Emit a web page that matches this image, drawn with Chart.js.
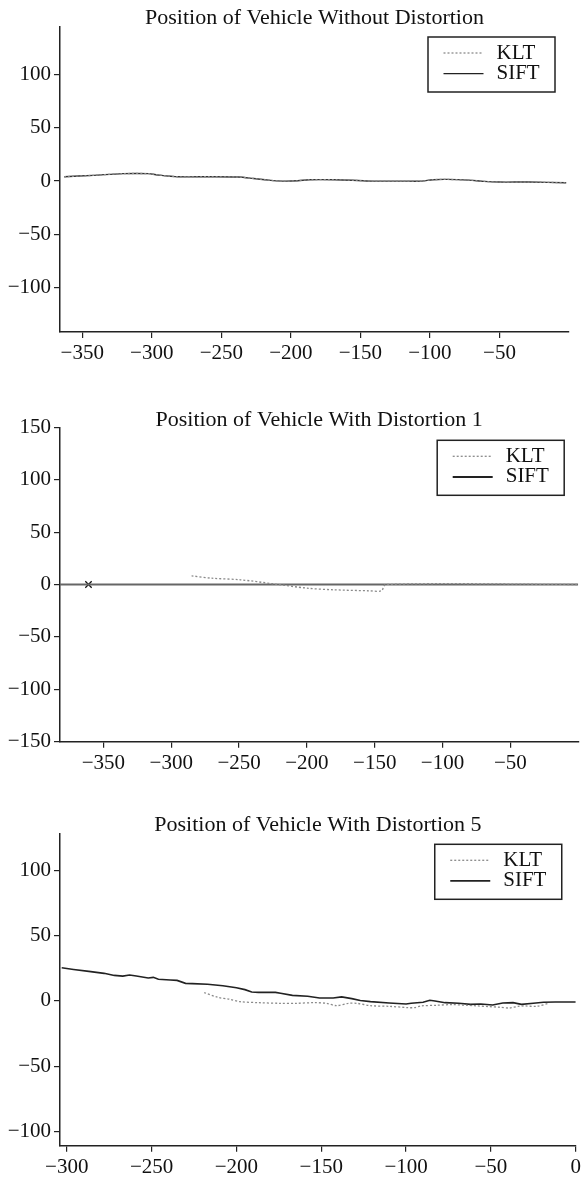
<!DOCTYPE html>
<html>
<head>
<meta charset="utf-8">
<title>Position of Vehicle</title>
<script src="https://cdn.jsdelivr.net/npm/chart.js@4.4.0/dist/chart.umd.min.js"></script>
<style>
  body { margin: 0; background: #fff; }
  canvas { display: block; }
</style>
</head>
<body>
<canvas id="chart1" width="584" height="390"></canvas>
<canvas id="chart2" width="584" height="390"></canvas>
<canvas id="chart3" width="584" height="398"></canvas>
<script>
// --- chart 1: without distortion (KLT and SIFT lie on top of each other)
var noDistX    = [-363, -342, -321, -302, -297, -281, -259, -238, -227, -216, -206, -195, -187, -168, -152, -141, -120, -106, -98, -88, -72, -61, -50, -29, -2];
var noDistSift = [4.1, 5.4, 7.0, 7.0, 6.0, 4.1, 4.1, 3.8, 2.5, 0.9, 0, 0.3, 1.3, 1.3, 0.6, 0, 0, 0, 1.3, 1.6, 0.9, -0.3, -0.9, -0.9, -1.6];
var noDistKlt  = [4.1, 5.4, 7.0, 7.0, 6.0, 4.1, 4.1, 3.8, 2.5, 0.9, 0, 0.3, 1.3, 1.3, 0.6, 0, 0, 0, 1.3, 1.6, 0.9, -0.3, -0.9, -0.9, -1.6];
var noDistXTicks = [-350, -300, -250, -200, -150, -100, -50];
var noDistYTicks = [-100, -50, 0, 50, 100];

// --- chart 2: distortion 1
var dist1KltX  = [-285, -270, -249, -225, -200, -181, -154, -145, -142, 0];
var dist1Klt   = [8.3, 6.0, 4.5, 0.7, -3.5, -5.0, -6.0, -6.0, 0, 0];
var dist1SiftX = [-382, 0];
var dist1Sift  = [0, 0];
var dist1MarkX = [-361];
var dist1Mark  = [0];
var dist1XTicks = [-350, -300, -250, -200, -150, -100, -50];
var dist1YTicks = [-150, -100, -50, 0, 50, 100, 150];

// --- chart 3: distortion 5
var dist5SiftX = [-303, -296, -287, -278, -272, -267, -263, -259, -252, -249, -246, -239, -235, -230, -226, -217, -208, -200, -195, -191, -187, -177, -174, -167, -158, -151, -143, -138, -132, -127, -121, -110, -100, -97, -90, -86, -83, -77, -69, -62, -56, -49, -43, -37, -32, -25, -19, -12, 0];
var dist5Sift  = [25.5, 24.2, 22.7, 21.2, 19.6, 19.1, 19.9, 19.1, 17.6, 18.1, 16.6, 16.1, 15.8, 13.5, 13.3, 12.8, 11.7, 10.2, 8.7, 6.9, 6.6, 6.6, 5.9, 4.3, 3.6, 2.3, 2.3, 3.1, 1.8, 0.3, -0.5, -1.5, -2.3, -1.8, -1.0, 0.5, 0, -1.3, -1.8, -2.6, -2.3, -3.1, -1.5, -1.3, -2.6, -1.8, -1.0, -0.8, -0.8];
var dist5KltX  = [-219, -211, -204, -198, -187, -174, -165, -154, -147, -141, -134, -129, -121, -110, -99, -95, -91, -82, -73, -64, -58, -51, -45, -39, -34, -30, -23, -16];
var dist5Klt   = [6.4, 2.8, 1.3, -0.5, -1.3, -1.8, -1.8, -1.3, -1.8, -3.6, -1.8, -1.8, -3.6, -4.1, -5.1, -5.1, -3.8, -3.3, -2.8, -3.3, -3.8, -4.3, -4.8, -5.4, -4.1, -3.8, -4.1, -1.8];
var dist5XTicks = [-300, -250, -200, -150, -100, -50, 0];
var dist5YTicks = [-100, -50, 0, 50, 100];

var serif = "'Liberation Serif', 'Times New Roman', serif";
Chart.defaults.font.family = serif;
Chart.defaults.color = '#111';

function toPoints(xs, ys) {
  return xs.map(function (x, i) { return { x: x, y: ys[i] }; });
}

function minusLabel(v) {
  return v < 0 ? '\u2212' + Math.abs(v) : String(v);
}

// framed legend in the top right corner of the plot
var boxLegend = {
  id: 'boxLegend',
  afterDraw: function (chart, args, opts) {
    var ctx = chart.ctx;
    var area = chart.chartArea;
    var w = 127, h = 55;
    var x = area.right - opts.right - w;
    var y = area.top + opts.top;
    ctx.save();
    ctx.fillStyle = '#fff';
    ctx.fillRect(x, y, w, h);
    ctx.strokeStyle = '#222';
    ctx.lineWidth = 1.5;
    ctx.strokeRect(x, y, w, h);
    var items = chart.data.datasets.filter(function (d) { return d.label; });
    items.forEach(function (ds, i) {
      var ly = y + 16 + i * 20.6;
      ctx.beginPath();
      ctx.setLineDash(ds.borderDash || []);
      ctx.strokeStyle = ds.legendColor || ds.borderColor;
      ctx.lineWidth = ds.borderWidth;
      ctx.moveTo(x + 15.5, ly);
      ctx.lineTo(x + 55.5, ly);
      ctx.stroke();
      ctx.setLineDash([]);
      ctx.fillStyle = '#111';
      ctx.font = '21px ' + serif;
      ctx.textBaseline = 'middle';
      ctx.textAlign = 'left';
      ctx.fillText(ds.label, x + 68.5, ly);
    });
    ctx.restore();
  }
};

function axis(min, max, tickValues, extra) {
  var a = {
    type: 'linear',
    min: min,
    max: max,
    grid: { display: true, drawOnChartArea: false, drawTicks: true, tickLength: 6, color: '#222', lineWidth: 1.2 },
    border: { display: true, color: '#222', width: 1.5 },
    ticks: { autoSkip: false, maxRotation: 0, padding: 3, color: '#111', font: { size: 21 }, callback: minusLabel },
    afterBuildTicks: function (scale) {
      scale.ticks = tickValues.map(function (v) { return { value: v }; });
    }
  };
  return Object.assign(a, extra);
}

function makeChart(id, cfg) {
  var canvas = document.getElementById(id);
  var H = canvas.height;
  var lh = 22 * 0.7;
  return new Chart(canvas.getContext('2d'), {
    type: 'scatter',
    data: { datasets: cfg.datasets },
    options: {
      responsive: false,
      animation: false,
      layout: { padding: { top: 0, left: 0, bottom: 0, right: cfg.padRight } },
      plugins: {
        legend: { display: false },
        tooltip: { enabled: false },
        title: {
          display: true,
          fullSize: false,
          text: cfg.title,
          color: '#111',
          font: { size: 22, weight: 'normal', lineHeight: 0.7 },
          padding: { top: cfg.titleY - lh / 2, bottom: cfg.areaTop - cfg.titleY - lh / 2 }
        },
        boxLegend: { right: 14, top: cfg.legendTop }
      },
      scales: {
        x: axis(cfg.xMin, cfg.xMax, cfg.xTicks, {
          afterFit: function (scale) { scale.height = H - cfg.areaBottom; }
        }),
        y: axis(cfg.yMin, cfg.yMax, cfg.yTicks, {
          afterFit: function (scale) { scale.width = 60; }
        })
      }
    },
    plugins: [boxLegend]
  });
}

function kltSet(xs, ys) {
  return {
    label: 'KLT', data: toPoints(xs, ys), showLine: true, pointRadius: 0,
    borderColor: '#8a8a8a', borderWidth: 1.3, borderDash: [2, 2], tension: 0.3
  };
}
function siftSet(xs, ys, color, width, tension) {
  return {
    label: 'SIFT', data: toPoints(xs, ys), showLine: true, pointRadius: 0,
    borderColor: color, legendColor: '#222', borderWidth: width, tension: tension
  };
}

makeChart('chart1', {
  title: 'Position of Vehicle Without Distortion',
  titleY: 18, areaTop: 27, areaBottom: 332, padRight: 15,
  xMin: -366, xMax: 0, yMin: -142, yMax: 145,
  xTicks: noDistXTicks, yTicks: noDistYTicks, legendTop: 10,
  datasets: [
    kltSet(noDistX, noDistKlt),
    siftSet(noDistX, noDistSift, '#333', 1.4, 0.3)
  ]
});

makeChart('chart2', {
  title: 'Position of Vehicle With Distortion 1',
  titleY: 30, areaTop: 37.3, areaBottom: 351.7, padRight: 0,
  xMin: -382, xMax: 0, yMin: -150, yMax: 150,
  xTicks: dist1XTicks, yTicks: dist1YTicks, legendTop: 13,
  datasets: [
    kltSet(dist1KltX, dist1Klt),
    siftSet(dist1SiftX, dist1Sift, '#666', 2, 0),
    {
      data: toPoints(dist1MarkX, dist1Mark), pointStyle: 'crossRot', pointRadius: 4.5,
      borderColor: '#111', borderWidth: 1.3, showLine: false
    }
  ]
});

makeChart('chart3', {
  title: 'Position of Vehicle With Distortion 5',
  titleY: 45, areaTop: 53.3, areaBottom: 365.7, padRight: 5,
  xMin: -304, xMax: 0, yMin: -111, yMax: 128.6,
  xTicks: dist5XTicks, yTicks: dist5YTicks, legendTop: 11,
  datasets: [
    kltSet(dist5KltX, dist5Klt),
    siftSet(dist5SiftX, dist5Sift, '#222', 1.6, 0)
  ]
});
</script>
</body>
</html>
